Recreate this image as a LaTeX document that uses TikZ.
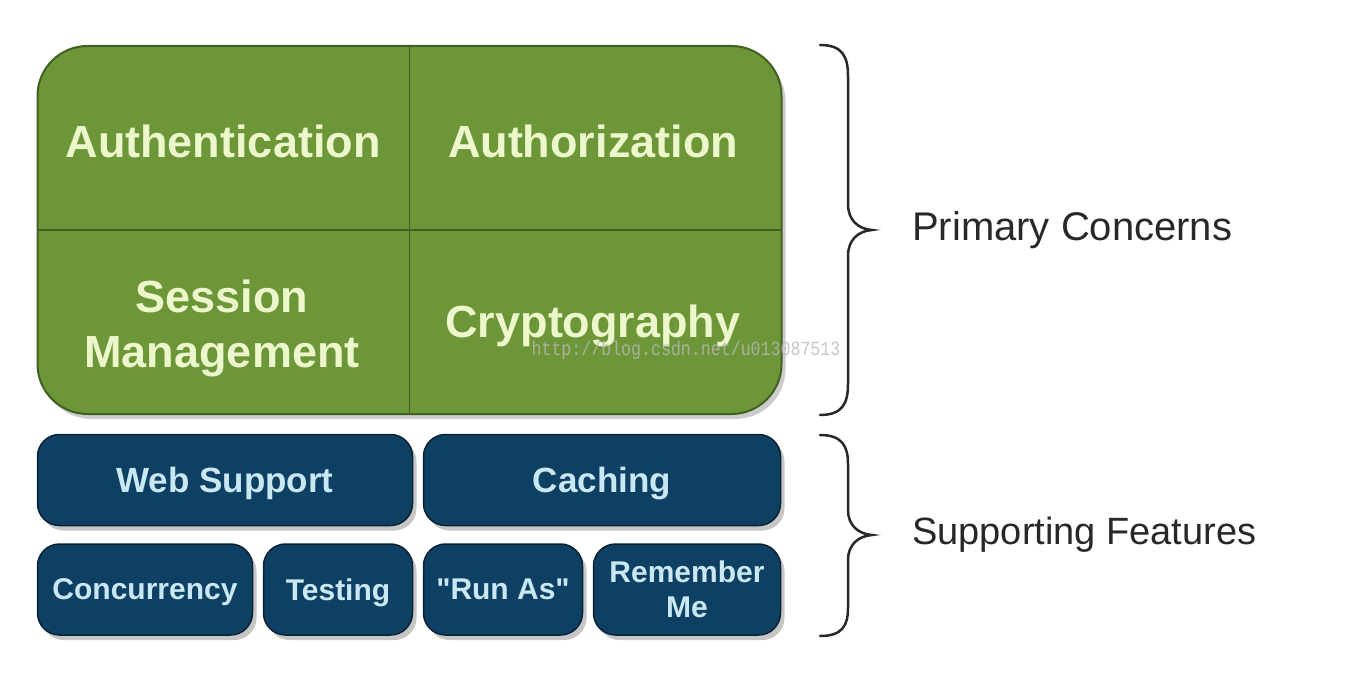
\documentclass[tikz,border=0pt]{standalone}
\usepackage{fontspec}
\setmainfont{Liberation Sans}
\setmonofont{Liberation Mono}
\usetikzlibrary{positioning, shadows}

\definecolor{coregreen}{RGB}{108,150,56}
\definecolor{coreline}{RGB}{66,96,34}
\definecolor{coretext}{RGB}{236,248,204}
\definecolor{featblue}{RGB}{14,64,100}
\definecolor{featline}{RGB}{8,34,54}
\definecolor{feattext}{RGB}{202,232,244}
\definecolor{bracecol}{RGB}{40,40,40}

\begin{document}
\begin{tikzpicture}[
    x=1pt, y=-1pt,
    corebox/.style={rectangle, draw=coreline, line width=2pt, fill=coregreen, rounded corners=50pt,
        minimum width=744pt, minimum height=368pt, outer sep=0pt,
        drop shadow={shadow xshift=4pt, shadow yshift=-5pt, opacity=0.4}},
    divider/.style={draw=coreline, line width=1.5pt},
    concern/.style={text=coretext, align=center, font=\bfseries\fontsize{45}{55}\selectfont},
    feature/.style={rectangle, draw=featline, line width=1.5pt, fill=featblue, rounded corners=22pt,
        text=feattext, align=center, minimum height=91pt, inner sep=0pt, outer sep=0pt, text depth=0pt,
        font=\bfseries\fontsize{30}{35}\selectfont,
        drop shadow={shadow xshift=4pt, shadow yshift=-5pt, opacity=0.45}},
    bigfeature/.style={feature, font=\bfseries\fontsize{35}{40}\selectfont},
    bracket/.style={draw=bracecol, line width=2.5pt, line cap=round},
    grouplabel/.style={inner sep=0pt, text=bracecol, font=\fontsize{38}{44}\selectfont},
    watermark/.style={text=gray!55!white, opacity=0.8, xscale=0.83, transform shape,
        font=\ttfamily\fontsize{20}{20}\selectfont}
]
\useasboundingbox (0,0) rectangle (1353,679);

% primary concerns block
\node[corebox] (core) at (409.5,230) {};
\draw[divider] (core.north) -- (core.south);
\draw[divider] (core.west) -- (core.east);

\node[concern] (authn) at (223,141) {Authentication};
\node[concern] (authz) at (593,141) {Authorization};
\node[concern] (session) at (222,328) {Session\\Management};
\node[concern] (crypto) at (593,326) {Cryptography};

% supporting features
\node[bigfeature, minimum width=375pt, anchor=north west] (web) at (37.5,434.5) {Web Support};
\node[bigfeature, minimum width=357pt, right=11pt of web] (cache) {Caching};
\node[feature, minimum width=215pt, below=18.5pt of web.south west, anchor=north west] (conc) {Concurrency};
\node[feature, minimum width=149pt, right=11pt of conc] (test) {Testing};
\node[feature, minimum width=159pt, right=11pt of test] (runas) {\textquotedbl Run As\textquotedbl};
\node[feature, minimum width=187pt, right=11pt of runas] (remember) {Remember\\Me};

% braces
\coordinate (ptip) at (872,230);
\coordinate (stip) at (872,535);
\draw[bracket] (820,45) .. controls (842,45) and (848,56) .. (848,76)
    -- (848,204) .. controls (848,220) and (858,229) .. (ptip)
    .. controls (858,231) and (848,240) .. (848,256)
    -- (848,384) .. controls (848,404) and (842,415) .. (820,415);
\draw[bracket] (820,435) .. controls (842,435) and (848,446) .. (848,464)
    -- (848,510) .. controls (848,525) and (858,534) .. (stip)
    .. controls (858,536) and (848,545) .. (848,560)
    -- (848,608) .. controls (848,626) and (842,636) .. (820,636);

\node[grouplabel, right=40pt of ptip, font=\fontsize{40}{46}\selectfont] (primary) {Primary Concerns};
\node[grouplabel, right=40pt of stip] (support) {Supporting Features};

\node[watermark] (mark) at (686,350) {http://blog.csdn.net/u013087513};
\end{tikzpicture}
\end{document}
